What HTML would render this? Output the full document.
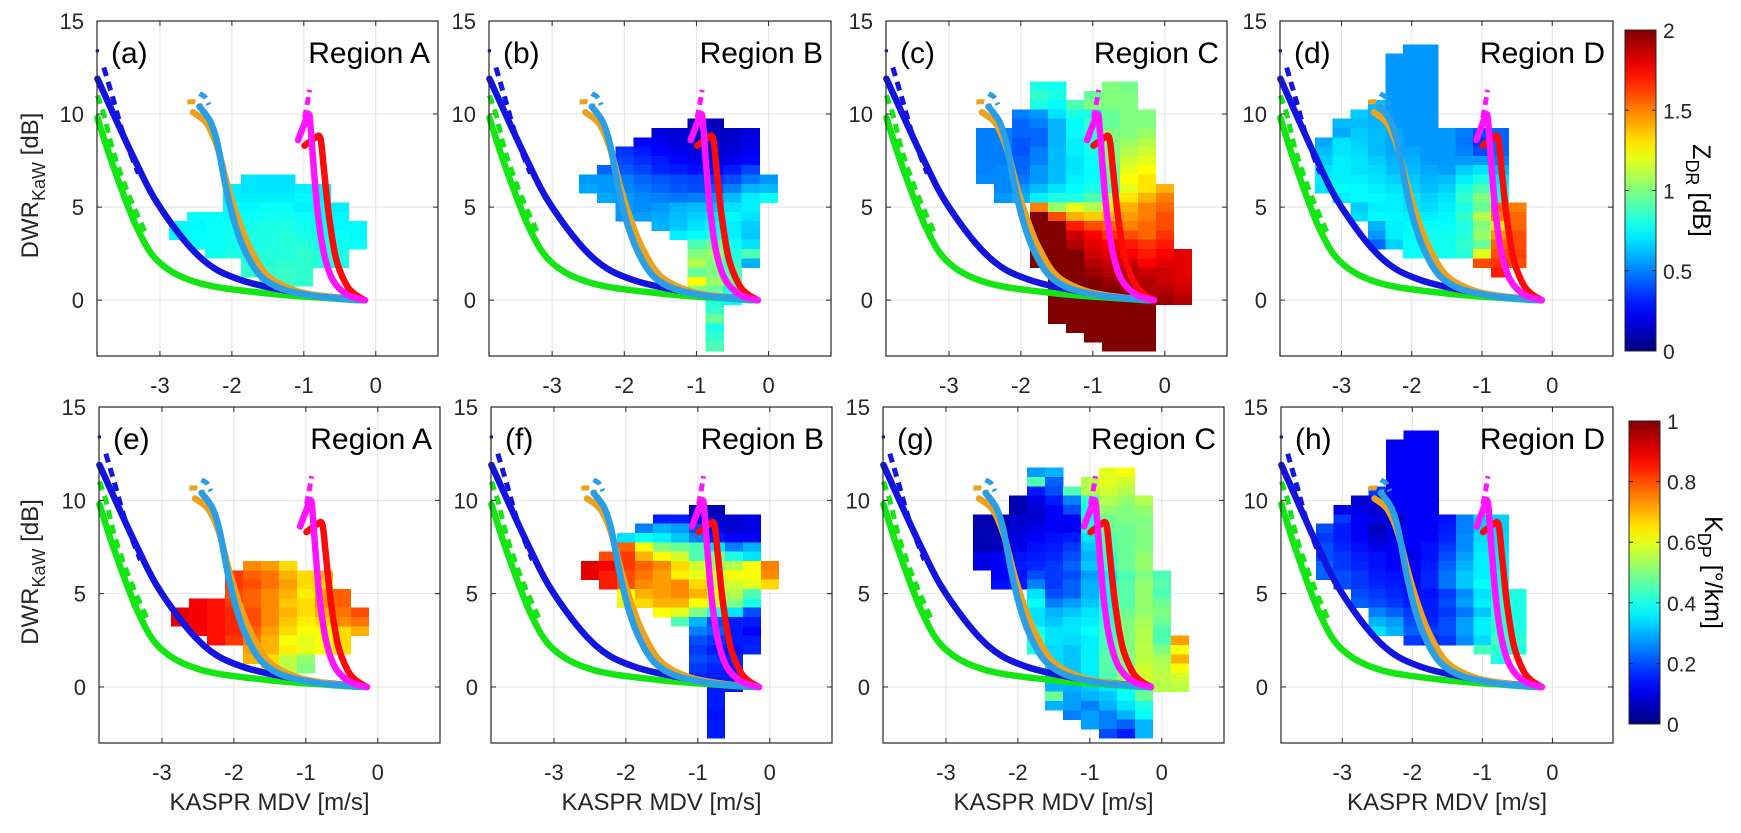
<!DOCTYPE html>
<html><head><meta charset="utf-8"><style>
html,body{margin:0;padding:0;background:#fff;}
svg{display:block;font-family:"Liberation Sans",Arial,sans-serif;}
</style></head><body>
<svg id="fig" width="1741" height="833" viewBox="0 0 1741 833" xmlns="http://www.w3.org/2000/svg">
<defs id="defs"></defs>
</svg>
<script>
// ---------- DATA ----------
const regionNames = ['A','B','C','D'];
const topLetters = ['(a)','(b)','(c)','(d)'];
const botLetters = ['(e)','(f)','(g)','(h)'];
const xTicks = [-3,-2,-1,0];
const yTicks = [15,10,5,0];
const zdrTicks = [0,0.5,1,1.5,2];
const kdpTicks = [0,0.2,0.4,0.6,0.8,1];
// row geometry: [dwr bottom edge, mdv left edge, number of 0.25 cells]
const rowsA = [[6.25,-1.875,3],[5.75,-2.125,6],[5.25,-2.125,6],[4.75,-2.125,7],[4.25,-2.625,9],[3.75,-2.875,11],[3.25,-2.875,11],[2.75,-2.625,10],[2.25,-2.375,8],[1.75,-1.875,6],[1.25,-1.875,4],[0.75,-1.625,3]];
const zdrA = [[0.70,0.70,0.70],[0.72,0.70,0.70,0.70,0.72,0.72],[0.72,0.72,0.72,0.72,0.74,0.72],[0.74,0.74,0.76,0.76,0.72,0.74,0.72],[0.76,0.76,0.74,0.76,0.78,0.78,0.76,0.74,0.74],[0.74,0.74,0.76,0.76,0.78,0.80,0.80,0.78,0.76,0.74,0.74],[0.74,0.76,0.76,0.78,0.80,0.80,0.82,0.80,0.78,0.76,0.74],[0.76,0.76,0.78,0.80,0.80,0.82,0.82,0.80,0.78,0.76],[0.78,0.80,0.80,0.82,0.82,0.84,0.82,0.80],[0.82,0.82,0.84,0.84,0.82,0.80],[0.84,0.84,0.86,0.84],[0.86,0.86,0.84]];
const kdpA = [[0.74,0.72,0.66],[0.82,0.78,0.76,0.70,0.66,0.70],[0.82,0.80,0.76,0.72,0.66,0.66],[0.80,0.78,0.74,0.70,0.64,0.72,0.78],[0.88,0.86,0.82,0.78,0.74,0.68,0.66,0.74,0.78],[0.90,0.88,0.86,0.84,0.80,0.74,0.70,0.66,0.70,0.76,0.80],[0.90,0.88,0.86,0.84,0.80,0.74,0.68,0.64,0.66,0.74,0.76],[0.88,0.86,0.84,0.78,0.72,0.66,0.62,0.62,0.66,0.70],[0.86,0.82,0.76,0.70,0.62,0.60,0.62,0.66],[0.72,0.70,0.64,0.60,0.62,0.66],[0.70,0.66,0.56,0.52],[0.66,0.56,0.50]];
const rowsB = [[9.25,-1.125,2],[8.75,-1.625,6],[8.25,-1.875,7],[7.75,-2.125,8],[7.25,-2.125,8],[6.75,-2.375,9],[6.25,-2.625,11],[5.75,-2.625,11],[5.25,-2.375,10],[4.75,-2.125,8],[4.25,-2.125,8],[3.75,-1.625,6],[3.25,-1.375,5],[2.75,-1.125,4],[2.25,-1.125,4],[1.75,-1.125,4],[1.25,-1.125,3],[0.75,-1.125,3],[0.25,-1.125,3],[-0.25,-0.875,2],[-0.75,-0.875,1],[-1.25,-0.875,1],[-1.75,-0.875,1],[-2.25,-0.875,1],[-2.75,-0.875,1]];
const zdrB = [[0.12,0.12],[0.18,0.16,0.14,0.12,0.14,0.18],[0.25,0.22,0.18,0.16,0.14,0.16,0.20],[0.35,0.30,0.25,0.22,0.18,0.16,0.18,0.22],[0.38,0.34,0.30,0.26,0.22,0.20,0.22,0.26],[0.45,0.42,0.38,0.32,0.30,0.28,0.26,0.30,0.38],[0.55,0.55,0.50,0.45,0.42,0.40,0.38,0.36,0.40,0.48,0.55],[0.58,0.55,0.52,0.48,0.45,0.42,0.40,0.42,0.50,0.60,0.62],[0.58,0.55,0.52,0.50,0.48,0.50,0.55,0.62,0.72,0.76],[0.55,0.52,0.55,0.60,0.62,0.62,0.70,0.72],[0.55,0.56,0.58,0.62,0.66,0.70,0.74,0.70],[0.60,0.64,0.70,0.74,0.72,0.66],[0.72,0.76,0.80,0.72,0.64],[0.90,0.95,0.78,0.70],[1.00,1.05,0.80,0.90],[1.10,1.00,0.85,0.60],[0.95,1.00,0.90],[1.25,1.05,0.95],[1.00,0.95,0.80],[0.80,0.75],[0.85],[0.95],[0.80],[0.85],[0.90]];
const kdpB = [[0.05,0.05],[0.15,0.15,0.10,0.08,0.08,0.10],[0.25,0.30,0.28,0.20,0.10,0.08,0.10],[0.35,0.38,0.36,0.32,0.25,0.15,0.12,0.12],[0.78,0.62,0.50,0.48,0.45,0.35,0.25,0.30],[0.80,0.82,0.70,0.62,0.58,0.45,0.50,0.40,0.35],[0.90,0.88,0.82,0.78,0.74,0.66,0.58,0.52,0.55,0.62,0.75],[0.90,0.85,0.80,0.76,0.72,0.64,0.60,0.58,0.62,0.62,0.74],[0.85,0.80,0.74,0.72,0.74,0.66,0.56,0.58,0.60,0.66],[0.62,0.70,0.72,0.74,0.70,0.62,0.55,0.45],[0.60,0.66,0.70,0.70,0.62,0.58,0.50,0.40],[0.62,0.60,0.50,0.40,0.35,0.20],[0.45,0.30,0.20,0.15,0.15],[0.25,0.22,0.15,0.12],[0.20,0.18,0.15,0.15],[0.18,0.15,0.14,0.16],[0.20,0.18,0.16],[0.18,0.16,0.15],[0.16,0.15,0.15],[0.15,0.14],[0.15],[0.15],[0.14],[0.15],[0.15]];
const rowsC = [[11.25,-1.875,2],[11.25,-0.875,2],[10.75,-1.875,2],[10.75,-1.125,3],[10.25,-1.875,6],[9.75,-2.125,8],[9.25,-2.125,8],[8.75,-2.625,10],[8.25,-2.625,10],[7.75,-2.625,10],[7.25,-2.625,10],[6.75,-2.625,10],[6.25,-2.625,10],[5.75,-2.375,10],[5.25,-2.375,10],[4.75,-1.875,8],[4.25,-1.875,8],[3.75,-1.875,8],[3.25,-1.875,8],[2.75,-1.875,8],[2.25,-1.875,9],[1.75,-1.875,9],[1.25,-1.625,8],[0.75,-1.625,8],[0.25,-1.625,8],[-0.25,-1.625,8],[-0.75,-1.625,6],[-1.25,-1.625,6],[-1.75,-1.375,5],[-2.25,-1.125,4],[-2.75,-0.875,3]];
const zdrC = [[0.80,0.78],[1.00,0.98],[0.85,0.80],[0.95,1.00,1.00],[0.80,0.75,0.90,1.00,1.00,1.00],[0.50,0.55,0.70,0.80,0.80,0.95,1.00,1.00],[0.45,0.50,0.60,0.75,0.85,0.95,1.00,1.00],[0.50,0.50,0.45,0.45,0.60,0.75,0.85,1.00,1.00,1.05],[0.50,0.50,0.42,0.45,0.60,0.72,0.80,1.00,1.05,1.10],[0.50,0.50,0.42,0.50,0.62,0.72,0.78,1.00,1.10,1.15],[0.50,0.50,0.45,0.50,0.62,0.70,0.76,1.00,1.15,1.20],[0.50,0.52,0.45,0.55,0.62,0.70,0.75,0.95,1.20,1.25],[0.52,0.52,0.48,0.55,0.62,0.72,0.76,0.95,1.25,1.30],[0.52,0.55,0.62,0.70,0.75,0.80,0.90,1.20,1.30,1.40],[0.55,0.60,0.72,0.80,0.80,0.90,1.10,1.30,1.40,1.50],[1.50,1.05,1.20,1.10,1.30,1.40,1.50,1.55],[2.00,1.60,1.40,1.35,1.40,1.45,1.50,1.60],[2.00,2.00,1.70,1.60,1.55,1.50,1.55,1.60],[2.00,2.00,1.85,1.75,1.65,1.60,1.55,1.65],[2.00,2.00,1.90,1.80,1.75,1.70,1.65,1.70],[2.00,2.00,2.00,1.85,1.80,1.75,1.70,1.75,1.80],[2.00,2.00,2.00,1.90,1.85,1.85,1.75,1.80,1.80],[2.00,2.00,1.95,1.90,1.90,1.85,1.85,1.80],[2.00,2.00,2.00,1.95,1.90,1.90,1.85,1.82],[2.00,2.00,2.00,2.00,1.95,1.90,1.90,1.85],[2.00,2.00,2.00,2.00,2.00,1.95,1.95,1.90],[2.00,2.00,2.00,2.00,2.00,2.00],[2.00,2.00,2.00,2.00,2.00,2.00],[2.00,2.00,2.00,2.00,2.00],[2.00,2.00,2.00,2.00],[2.00,2.00,2.00]];
const kdpC = [[0.28,0.30],[0.60,0.62],[0.45,0.22],[0.55,0.60,0.58],[0.15,0.20,0.45,0.55,0.58,0.55],[0.05,0.10,0.15,0.25,0.42,0.55,0.52,0.55],[0.05,0.08,0.12,0.20,0.40,0.52,0.50,0.52],[0.05,0.05,0.08,0.08,0.12,0.12,0.38,0.48,0.50,0.50],[0.05,0.05,0.08,0.10,0.12,0.12,0.40,0.48,0.48,0.50],[0.05,0.06,0.10,0.12,0.14,0.15,0.35,0.45,0.48,0.50],[0.05,0.06,0.10,0.14,0.15,0.18,0.32,0.45,0.48,0.50],[0.10,0.12,0.14,0.15,0.16,0.20,0.30,0.42,0.48,0.52],[0.10,0.12,0.15,0.16,0.18,0.22,0.32,0.42,0.48,0.52],[0.12,0.14,0.20,0.18,0.20,0.28,0.36,0.45,0.50,0.45],[0.14,0.15,0.25,0.18,0.22,0.30,0.38,0.46,0.52,0.46],[0.35,0.20,0.22,0.30,0.38,0.46,0.52,0.45],[0.38,0.25,0.28,0.32,0.38,0.46,0.52,0.48],[0.35,0.30,0.32,0.35,0.40,0.48,0.52,0.50],[0.35,0.32,0.35,0.36,0.42,0.50,0.54,0.48],[0.40,0.35,0.35,0.38,0.44,0.50,0.55,0.45],[0.42,0.35,0.34,0.36,0.44,0.50,0.55,0.45,0.72],[0.40,0.34,0.32,0.36,0.45,0.50,0.56,0.50,0.62],[0.34,0.32,0.36,0.46,0.50,0.56,0.54,0.70],[0.34,0.32,0.36,0.46,0.50,0.58,0.55,0.62],[0.30,0.32,0.36,0.45,0.52,0.58,0.56,0.58],[0.30,0.30,0.32,0.35,0.38,0.45,0.55,0.56],[0.48,0.28,0.30,0.32,0.38,0.48],[0.30,0.28,0.25,0.30,0.35,0.40],[0.25,0.28,0.25,0.30,0.38],[0.28,0.25,0.22,0.30],[0.20,0.15,0.30]];
const rowsD = [[13.25,-2.125,2],[12.75,-2.375,3],[12.25,-2.375,3],[11.75,-2.375,3],[11.25,-2.375,3],[10.75,-2.375,3],[10.25,-2.625,4],[9.75,-2.875,5],[9.25,-3.125,6],[8.75,-3.125,10],[8.25,-3.375,11],[7.75,-3.375,11],[7.25,-3.375,11],[6.75,-3.375,11],[6.25,-3.375,11],[5.75,-3.375,11],[5.25,-3.125,10],[4.75,-2.875,10],[4.25,-2.875,10],[3.75,-2.625,9],[3.25,-2.625,9],[2.75,-2.625,9],[2.25,-2.125,7],[1.75,-1.125,3],[1.25,-0.875,1]];
const zdrD = [[0.55,0.55],[0.55,0.55,0.55],[0.55,0.55,0.55],[0.55,0.55,0.55],[0.55,0.55,0.55],[0.55,0.55,0.55],[0.62,0.55,0.55,0.55],[0.65,0.60,0.55,0.55,0.55],[0.62,0.62,0.60,0.55,0.55,0.55],[0.58,0.65,0.62,0.58,0.55,0.55,0.55,0.50,0.40,0.45],[0.58,0.70,0.66,0.62,0.58,0.55,0.55,0.55,0.48,0.35,0.45],[0.62,0.70,0.68,0.62,0.58,0.58,0.55,0.55,0.50,0.40,0.45],[0.65,0.72,0.70,0.65,0.60,0.60,0.55,0.55,0.55,0.55,0.50],[0.70,0.72,0.70,0.68,0.62,0.62,0.58,0.56,0.65,0.70,0.60],[0.72,0.72,0.72,0.70,0.66,0.64,0.60,0.62,0.72,0.80,0.70],[0.70,0.75,0.74,0.72,0.70,0.66,0.62,0.66,0.80,0.90,0.75],[0.72,0.74,0.74,0.72,0.70,0.66,0.70,0.85,1.00,0.80],[0.65,0.72,0.72,0.70,0.68,0.72,0.80,0.95,1.55,1.50],[0.68,0.74,0.74,0.72,0.72,0.74,0.85,1.10,1.50,1.55],[0.60,0.72,0.74,0.75,0.76,0.80,1.00,1.30,1.55],[0.55,0.72,0.76,0.78,0.78,0.82,1.05,1.45,1.60],[0.45,0.66,0.76,0.78,0.78,0.85,0.95,1.55,1.60],[0.76,0.78,0.78,0.82,1.20,1.60,1.62],[1.60,1.65,1.60],[1.70]];
const kdpD = [[0.12,0.12],[0.12,0.12,0.12],[0.12,0.12,0.12],[0.12,0.12,0.12],[0.12,0.12,0.12],[0.12,0.12,0.12],[0.18,0.12,0.12,0.12],[0.08,0.10,0.12,0.12,0.12],[0.10,0.10,0.08,0.12,0.12,0.12],[0.18,0.12,0.10,0.06,0.12,0.12,0.14,0.25,0.33,0.33],[0.20,0.15,0.12,0.06,0.10,0.12,0.12,0.15,0.25,0.33,0.33],[0.18,0.15,0.12,0.08,0.10,0.12,0.12,0.16,0.26,0.34,0.34],[0.20,0.16,0.14,0.10,0.12,0.12,0.14,0.18,0.26,0.35,0.35],[0.20,0.18,0.15,0.14,0.12,0.10,0.14,0.20,0.28,0.36,0.36],[0.22,0.18,0.16,0.14,0.12,0.12,0.15,0.22,0.30,0.36,0.36],[0.22,0.20,0.18,0.15,0.14,0.12,0.16,0.24,0.32,0.36,0.38],[0.20,0.18,0.16,0.15,0.12,0.16,0.24,0.32,0.38,0.38],[0.20,0.18,0.16,0.14,0.14,0.18,0.26,0.35,0.40,0.40],[0.22,0.20,0.18,0.15,0.15,0.20,0.28,0.36,0.42,0.40],[0.25,0.22,0.18,0.15,0.18,0.24,0.32,0.42,0.40],[0.30,0.28,0.20,0.16,0.20,0.28,0.36,0.42,0.40],[0.35,0.30,0.22,0.18,0.20,0.28,0.36,0.42,0.40],[0.18,0.16,0.18,0.26,0.34,0.44,0.42],[0.44,0.42,0.40],[0.40]];
// model curves (MDV m/s, DWR dB)
const greenV = [-3.87,-3.65,-3.32,-3.0,-2.44,-1.5,-0.64,-0.25];
const greenD = [9.8,7.2,3.9,2.0,0.9,0.36,0.1,0.0];
const greenDashV = [-3.87,-3.78,-3.65,-3.45,-3.2];
const greenDashD = [11.0,10.0,8.0,5.8,3.6];
const blueV = [-3.87,-3.37,-3.0,-2.44,-1.89,-1.03,-0.17];
const blueD = [11.9,7.7,5.0,2.3,1.1,0.37,0.0];
const blueDashV = [-3.78,-3.65,-3.5,-3.3];
const blueDashD = [12.5,10.8,8.8,6.8];
const orangeV = [-2.54,-2.35,-2.2,-2.05,-1.9,-1.75,-1.5,-1.1,-0.6,-0.2];
const orangeD = [10.1,9.5,8.2,6.0,4.2,2.8,1.3,0.5,0.15,0.0];
const orangeDashV = [-2.62,-2.5,-2.42];
const orangeDashD = [10.65,10.65,10.4];
const lbV = [-2.45,-2.3,-2.2,-2.08,-1.95,-1.8,-1.6,-1.3,-0.8,-0.2];
const lbD = [10.4,9.6,8.4,6.0,4.0,2.5,1.3,0.6,0.2,0.0];
const lbDashV = [-2.45,-2.37,-2.32];
const lbDashD = [11.1,10.9,10.5];
const redV = [-0.99,-0.85,-0.77,-0.72,-0.65,-0.55,-0.42,-0.3,-0.15];
const redD = [8.3,8.7,8.7,7.0,4.5,2.2,0.9,0.35,0.0];
const magV = [-1.08,-1.0,-0.93,-0.9,-0.86,-0.8,-0.72,-0.6,-0.4,-0.15];
const magD = [8.6,9.4,10.0,9.0,7.0,4.5,2.5,1.1,0.3,0.0];
const magDashV = [-0.99,-0.95,-0.92];
const magDashD = [9.8,10.6,11.3];
const dotV = [-3.87];
const dotD = [13.4];

// ---------- RENDER ----------
const NS = 'http://www.w3.org/2000/svg';
const svg = document.getElementById('fig');
function mk(tag, attrs, parent){const e=document.createElementNS(NS,tag);for(const k in attrs)e.setAttribute(k,attrs[k]);(parent||svg).appendChild(e);return e;}
function clamp(v){return Math.max(0,Math.min(1,v));}
function jet(t){t=clamp(t);const r=clamp(1.5-Math.abs(4*t-3)),g=clamp(1.5-Math.abs(4*t-2)),b=clamp(1.5-Math.abs(4*t-1));return 'rgb('+Math.round(r*255)+','+Math.round(g*255)+','+Math.round(b*255)+')';}
function smooth(pts){let d='M'+pts[0][0].toFixed(1)+','+pts[0][1].toFixed(1);for(let i=0;i<pts.length-1;i++){const p0=pts[Math.max(0,i-1)],p1=pts[i],p2=pts[i+1],p3=pts[Math.min(pts.length-1,i+2)];const c1=[p1[0]+(p2[0]-p0[0])/6,p1[1]+(p2[1]-p0[1])/6],c2=[p2[0]-(p3[0]-p1[0])/6,p2[1]-(p3[1]-p1[1])/6];d+='C'+c1[0].toFixed(1)+','+c1[1].toFixed(1)+' '+c2[0].toFixed(1)+','+c2[1].toFixed(1)+' '+p2[0].toFixed(1)+','+p2[1].toFixed(1);}return d;}

const regionRows=[rowsA,rowsB,rowsC,rowsD];
const regionZdr=[zdrA,zdrB,zdrC,zdrD];
const regionKdp=[kdpA,kdpB,kdpC,kdpD];
const layout=[
 {top:21,bottom:356,lefts:[97,489,886,1280],rights:[438,831,1227,1613],letters:topLetters,vals:regionZdr,vmax:2,xlab:false},
 {top:407,bottom:743,lefts:[99,491,883,1281],rights:[440,832,1224,1613],letters:botLetters,vals:regionKdp,vmax:1,xlab:true}
];
const curves=[
 [greenV,greenD,'#14e614',6.5,null,'green-model-curve'],
 [greenDashV,greenDashD,'#14e614',5,'9 6','green-dashed-curve'],
 [blueV,blueD,'#1414e0',6.5,null,'blue-model-curve'],
 [blueDashV,blueDashD,'#1414e0',5,'9 6','blue-dashed-curve'],
 [orangeV,orangeD,'#eba31f',6.5,null,'orange-model-curve'],
 [orangeDashV,orangeDashD,'#eba31f',5,'8 5','orange-dashed-curve'],
 [lbV,lbD,'#2b9fe6',6.5,null,'lightblue-model-curve'],
 [lbDashV,lbDashD,'#2b9fe6',5,'8 5','lightblue-dashed-curve'],
 [redV,redD,'#ff0a0a',6.5,null,'red-model-curve'],
 [magV,magD,'#ff14ff',6.5,null,'magenta-model-curve'],
 [magDashV,magDashD,'#ff14ff',5,'8 5','magenta-dashed-curve']
];

layout.forEach((L,row)=>{
 for(let p=0;p<4;p++){
  const left=L.lefts[p],right=L.rights[p],top=L.top,bottom=L.bottom;
  const sx=(right-left)/4.74, sy=(bottom-top)/18;
  const X=v=>left+(v+3.875)*sx, Y=d=>bottom-(d+3)*sy;
  const g=mk('g',{});
  
  
  const bg=mk('rect',{x:left,y:top,width:right-left,height:bottom-top,fill:'#fff'},g);
  
  
  xTicks.forEach(t=>{const l=mk('line',{x1:X(t),x2:X(t),y1:top,y2:bottom,stroke:'#e3e3e3','stroke-width':1},g);
   
   });
  yTicks.forEach(t=>{if(t===15)return;const l=mk('line',{x1:left,x2:right,y1:Y(t),y2:Y(t),stroke:'#e3e3e3','stroke-width':1},g);
   
   });
  const rows=regionRows[p], vals=L.vals[p];
  const hg=mk('g',{'shape-rendering':'crispEdges'},g);
  
  
  rows.forEach((r,i)=>{for(let k=0;k<r[2];k++){const v0=r[1]+k*0.25;const x0=X(v0),x1=X(v0+0.25);const y1=Math.min(Y(r[0]),bottom),y0=Y(r[0]+0.5);if(y0>=bottom)continue;
   const c=mk('rect',{x:x0.toFixed(1),y:y0.toFixed(1),width:(x1-x0+0.4).toFixed(1),height:(y1-y0+0.4).toFixed(1),fill:jet(vals[i][k]/L.vmax)},hg);
   
   }});
  curves.forEach(cv=>{const pts=cv[0].map((v,i)=>[X(v),Y(cv[1][i])]);
   const a={d:smooth(pts),fill:'none',stroke:cv[2],'stroke-width':cv[3],'stroke-linecap':cv[4]?'butt':'round','stroke-linejoin':'round'};
   if(cv[4])a['stroke-dasharray']=cv[4];
   const path=mk('path',a,g);
   
   });
  dotV.forEach((v,i)=>{const c=mk('circle',{cx:X(v),cy:Y(dotD[i]),r:1.8,fill:'#1414e0'},g);
   
   });
  const box=mk('rect',{x:left,y:top,width:right-left,height:bottom-top,fill:'none',stroke:'#262626','stroke-width':1.2},g);
  
  
  xTicks.forEach(t=>{
   const tk=mk('path',{d:'M'+X(t)+','+bottom+'v-5M'+X(t)+','+top+'v5',stroke:'#262626','stroke-width':1},g);
   
   
   const tl=mk('text',{x:X(t),y:bottom+37,'text-anchor':'middle','font-size':22,fill:'#262626'},g);
   tl.textContent=t;
   
   });
  yTicks.forEach(t=>{
   const tk=mk('path',{d:'M'+left+','+Y(t)+'h5M'+right+','+Y(t)+'h-5',stroke:'#262626','stroke-width':1},g);
   
   
   const tl=mk('text',{x:left-13,y:Y(t)+8,'text-anchor':'end','font-size':22,fill:'#262626'},g);
   tl.textContent=t;
   
   });
  const lt=mk('text',{x:left+14,y:top+42,'font-size':30,fill:'#000'},g);
  lt.textContent=L.letters[p];
  
  
  const rt=mk('text',{x:right-8,y:top+42,'text-anchor':'end','font-size':30,fill:'#000'},g);
  rt.textContent='Region '+regionNames[p];
  
  
  if(L.xlab){const xt=mk('text',{x:(left+right)/2,y:810,'text-anchor':'middle','font-size':24,fill:'#262626'},g);
   xt.textContent='KASPR MDV [m/s]';
   
   }
  if(p===0){const cy=(top+bottom)/2-3;
   const yt=mk('text',{x:0,y:0,transform:'translate(38,'+cy+') rotate(-90)','text-anchor':'middle','font-size':24,fill:'#262626'},g);
   yt.innerHTML='DWR<tspan dy="7" font-size="18">KaW</tspan><tspan dy="-7"> [dB]</tspan>';
   
   }
 }
});

const defs=document.getElementById('defs');
const grad=mk('linearGradient',{id:'jetg',x1:0,y1:1,x2:0,y2:0},defs);
for(let i=0;i<=20;i++){mk('stop',{offset:(i/20),'stop-color':jet(i/20)},grad);}
const cbs=[
 {x:1625,y0:30,y1:351,ticks:zdrTicks,vmax:2,title:'Z<tspan dy="7" font-size="18">DR</tspan><tspan dy="-7"> [dB]</tspan>',tx:1693,name:'zdr-colorbar'},
 {x:1629,y0:421,y1:724,ticks:kdpTicks,vmax:1,title:'K<tspan dy="7" font-size="18">DP</tspan><tspan dy="-7"> [°/km]</tspan>',tx:1705,name:'kdp-colorbar'}
];
cbs.forEach(c=>{
 const g=mk('g',{});
 
 
 const r=mk('rect',{x:c.x,y:c.y0,width:31,height:c.y1-c.y0,fill:'url(#jetg)',stroke:'#262626','stroke-width':1},g);
 
 
 c.ticks.forEach(t=>{const y=c.y1-(t/c.vmax)*(c.y1-c.y0);
  const tk=mk('path',{d:'M'+(c.x+31)+','+y+'h-4M'+c.x+','+y+'h4',stroke:'#262626','stroke-width':1},g);
  
  
  const tl=mk('text',{x:c.x+38,y:y+8,'font-size':21,fill:'#262626'},g);
  tl.textContent=t;
  
  });
 const tt=mk('text',{x:0,y:0,transform:'translate('+c.tx+','+((c.y0+c.y1)/2)+') rotate(90)','text-anchor':'middle','font-size':25,fill:'#000'},g);
 tt.innerHTML=c.title;
 
 
});
</script>
</body></html>
